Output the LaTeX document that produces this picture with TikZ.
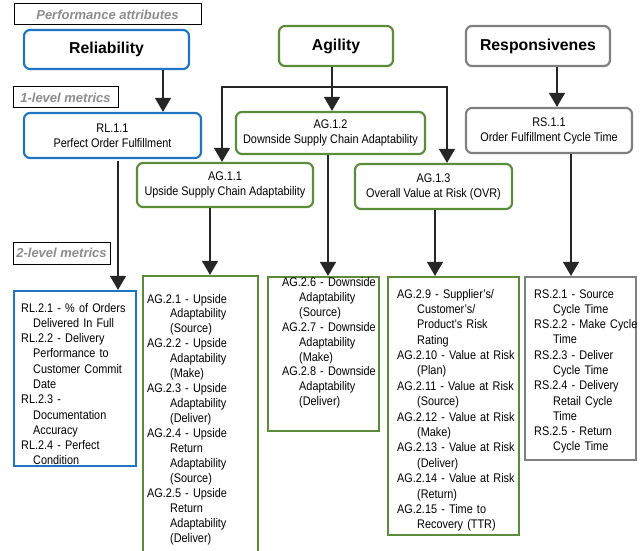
\documentclass[tikz,border=0pt]{standalone}
\usepackage{fontspec}
\setmainfont{Liberation Sans}[FakeStretch=0.87]
\newfontfamily\headfont{Liberation Sans}
\usetikzlibrary{arrows.meta}

\definecolor{relblue}{HTML}{1F74C4}
\definecolor{agigreen}{HTML}{5B8C3A}
\definecolor{resgray}{HTML}{808080}
\definecolor{tagtext}{HTML}{8C8C8C}
\definecolor{linegray}{HTML}{262626}

\newlength{\listhang}
\newcommand{\mitem}[1]{\hangindent=\listhang\hangafter=1 #1\par}

\begin{document}
\begin{tikzpicture}[x=1pt,y=-1pt,
    attr/.style={draw=#1, line width=2.2pt, rounded corners=6pt, fill=white,
      font=\headfont\fontsize{15.8}{18}\selectfont\bfseries},
    metric/.style={draw=#1, line width=2.2pt, rounded corners=6pt, align=center,
      font=\fontsize{12.5}{15}\selectfont},
    lvtwo/.style={draw=#1, line width=2.2pt},
    mlist/.style 2 args={anchor=base west, inner sep=0pt, text width=#1, align=left,
      font=\fontsize{12.5}{15.3}\selectfont,
      execute at begin node={\setlength{\listhang}{#2}}},
    tag/.style={draw, line width=1pt, text=tagtext,
      font=\headfont\fontsize{13}{15}\selectfont\bfseries\itshape},
    conn/.style={draw=linegray, line width=1.3pt, -{Triangle[width=16pt,length=14pt]}}]

    \useasboundingbox (0,0) rectangle (641,551);

    % tags
    \node[tag, minimum width=187pt, minimum height=21pt] (TagPA) at (107.5,14.5) {Performance attributes};
    \node[tag, minimum width=105pt, minimum height=21pt] (TagOne) at (65.5,97.5) {1-level metrics};
    \node[tag, minimum width=97pt, minimum height=22pt] (TagTwo) at (61.5,253) {2-level metrics};

    % performance attributes
    \node[attr=relblue, minimum width=165pt, minimum height=39pt] (Rel) at (106.5,49.5) {Reliability};
    \node[attr=agigreen, minimum width=114pt, minimum height=40pt] (Agi) at (336,46) {Agility};
    \node[attr=resgray, minimum width=144pt, minimum height=40pt] (Res) at (538,46) {Responsivenes};

    % 1-level metrics
    \node[metric=relblue, minimum width=177pt, minimum height=45pt] (RL11) at (112.5,135.5) {RL.1.1\\Perfect Order Fulfillment};
    \node[metric=agigreen, minimum width=189pt, minimum height=42pt] (AG12) at (330.5,133) {AG.1.2\\Downside Supply Chain Adaptability};
    \node[metric=agigreen, minimum width=176pt, minimum height=44pt] (AG11) at (225,185) {AG.1.1\\Upside Supply Chain Adaptability};
    \node[metric=agigreen, minimum width=157pt, minimum height=45pt] (AG13) at (433.5,186.5) {AG.1.3\\Overall Value at Risk (OVR)};
    \node[metric=resgray, minimum width=166pt, minimum height=45pt] (RS11) at (549,130.5) {RS.1.1\\Order Fulfillment Cycle Time};

    % 2-level metrics
    \node[lvtwo=relblue, minimum width=122pt, minimum height=175pt] (RL2) at (75,378.5) {};
    \node[lvtwo=agigreen, minimum width=115pt, minimum height=280pt] (AG21) at (200.5,416) {};
    \node[lvtwo=agigreen, minimum width=111pt, minimum height=154pt] (AG26) at (323.5,354) {};
    \node[lvtwo=agigreen, minimum width=131pt, minimum height=258pt] (AG29) at (453.5,406) {};
    \node[lvtwo=resgray, minimum width=111pt, minimum height=183pt] (RS2) at (580.5,368.5) {};

    \node[mlist={118pt}{12pt}] (RL2txt) at (21,312) {%
      \mitem{RL.2.1 - \% of Orders\newline Delivered In Full}%
      \mitem{RL.2.2 - Delivery\newline Performance to\newline Customer Commit\newline Date}%
      \mitem{RL.2.3 -\newline Documentation\newline Accuracy}%
      \mitem{RL.2.4 - Perfect\newline Condition}};
    \node[mlist={110pt}{23pt}, font=\fontsize{12.5}{14.95}\selectfont] (AG21txt) at (147,303) {%
      \mitem{AG.2.1 - Upside\newline Adaptability\newline (Source)}%
      \mitem{AG.2.2 - Upside\newline Adaptability\newline (Make)}%
      \mitem{AG.2.3 - Upside\newline Adaptability\newline (Deliver)}%
      \mitem{AG.2.4 - Upside\newline Return\newline Adaptability\newline (Source)}%
      \mitem{AG.2.5 - Upside\newline Return\newline Adaptability\newline (Deliver)}};
    \node[mlist={100pt}{17pt}, font=\fontsize{12.5}{15}\selectfont] (AG26txt) at (282,286) {%
      \mitem{AG.2.6 - Downside\newline Adaptability\newline (Source)}%
      \mitem{AG.2.7 - Downside\newline Adaptability\newline (Make)}%
      \mitem{AG.2.8 - Downside\newline Adaptability\newline (Deliver)}};
    \node[mlist={122pt}{20pt}, font=\fontsize{12.5}{15.4}\selectfont] (AG29txt) at (397,298) {%
      \mitem{AG.2.9 - Supplier’s/\newline Customer’s/\newline Product’s Risk\newline Rating}%
      \mitem{AG.2.10 - Value at Risk\newline (Plan)}%
      \mitem{AG.2.11 - Value at Risk\newline (Source)}%
      \mitem{AG.2.12 - Value at Risk\newline (Make)}%
      \mitem{AG.2.13 - Value at Risk\newline (Deliver)}%
      \mitem{AG.2.14 - Value at Risk\newline (Return)}%
      \mitem{AG.2.15 - Time to\newline Recovery (TTR)}};
    \node[mlist={110pt}{19pt}] (RS2txt) at (534,298) {%
      \mitem{RS.2.1 - Source\newline Cycle Time}%
      \mitem{RS.2.2 - Make Cycle\newline Time}%
      \mitem{RS.2.3 - Deliver\newline Cycle Time}%
      \mitem{RS.2.4 - Delivery\newline Retail Cycle\newline Time}%
      \mitem{RS.2.5 - Return\newline Cycle Time}};

    % connectors
    \draw[conn] ([xshift=56.5pt]Rel.south) -- ([xshift=56.5pt]Rel.south |- RL11.north);
    \draw[conn] ([xshift=19pt]Res.south) -- ([xshift=19pt]Res.south |- RS11.north);

    \coordinate (AgiFork) at (332,87);
    \draw[conn] ([xshift=-4pt]Agi.south) -- ([xshift=-4pt]Agi.south |- AG12.north);
    \draw[conn] (AgiFork) -| ([xshift=-3pt]AG11.north);
    \draw[conn] (AgiFork) -| ([xshift=13.5pt]AG13.north);

    \draw[conn] ([xshift=5.5pt,yshift=-2pt]RL11.south) -- ([xshift=5.5pt]RL11.south |- RL2.north);
    \draw[conn] ([xshift=-15pt]AG11.south) -- ([xshift=-15pt]AG11.south |- AG21.north);
    \draw[conn] ([xshift=-2.5pt]AG12.south) -- ([xshift=-2.5pt]AG12.south |- AG26.north);
    \draw[conn] ([xshift=1.5pt]AG13.south) -- ([xshift=1.5pt]AG13.south |- AG29.north);
    \draw[conn] ([xshift=22pt]RS11.south) -- ([xshift=22pt]RS11.south |- RS2.north);

\end{tikzpicture}
\end{document}
